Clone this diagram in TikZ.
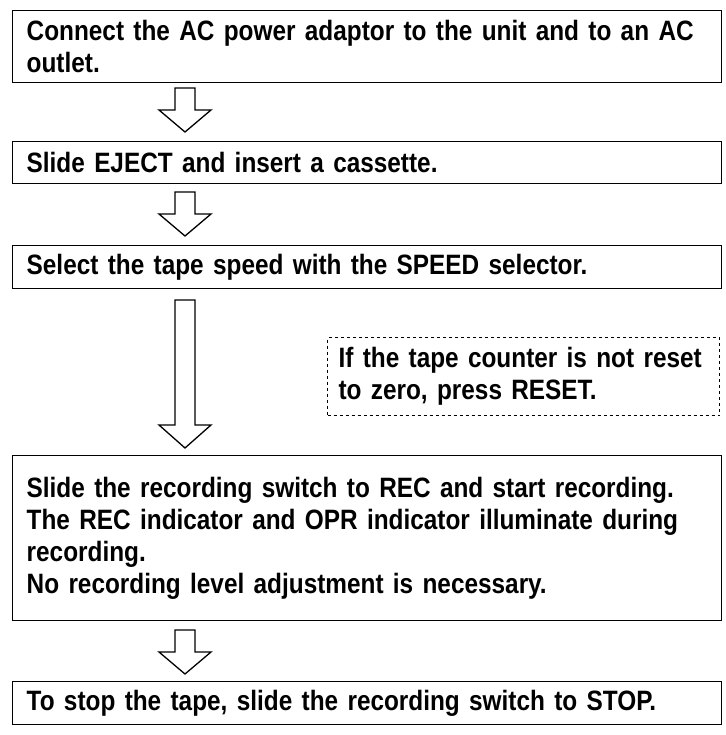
\documentclass[tikz,border=0pt]{standalone}
\usepackage{fontspec}
\setmainfont{Liberation Sans}[FakeStretch=0.87]
\usetikzlibrary{positioning}
\tikzset{
    stepbox/.style={draw, line width=1.4pt, anchor=north west, inner xsep=14pt,
        align=left, font=\bfseries\fontsize{28}{32}\selectfont},
    hollow/.style={draw, line width=1.3pt, fill=white, line join=miter}
}
\newcommand{\hollowdown}[4]{% x, top, head, tip
    \draw[hollow] (#1-10,#2) -- (#1+10,#2) -- (#1+10,#3) -- (#1+26,#3)
        -- (#1,#4) -- (#1-26,#3) -- (#1-10,#3) -- cycle;}
\begin{document}
\begin{tikzpicture}[x=1pt,y=-1pt]
    \useasboundingbox (0,0) rectangle (725,735);

    % Steps
    \node[stepbox, text width=681pt, minimum height=72pt] (power) at (12,10)
        {Connect the AC power adaptor to the unit and to an AC\\outlet.};
    \node[stepbox, text width=681pt, minimum height=42pt] (eject) at (12,141)
        {Slide EJECT and insert a cassette.};
    \node[stepbox, text width=681pt, minimum height=43pt] (speed) at (12,245)
        {Select the tape speed with the SPEED selector.};
    \node[stepbox, text width=681pt, minimum height=165pt] (rec) at (12,455)
        {Slide the recording switch to REC and start recording.\\
         The REC indicator and OPR indicator illuminate during\\
         recording.\\
         No recording level adjustment is necessary.};
    \node[stepbox, text width=681pt, minimum height=43pt] (stop) at (12,681)
        {To stop the tape, slide the recording switch to STOP.};

    % Note
    \node[stepbox, dashed, line width=1.1pt, inner xsep=11pt, text width=370pt,
        minimum height=78pt] (reset) at (327,337)
        {\hyphenpenalty=10000 If the tape counter is not reset\\to zero, press RESET.};

    % Arrows
    \hollowdown{185}{88}{110}{132}
    \hollowdown{185}{192}{214}{236}
    \hollowdown{185}{300}{425}{448}
    \hollowdown{185}{630}{652}{674}

\end{tikzpicture}
\end{document}
